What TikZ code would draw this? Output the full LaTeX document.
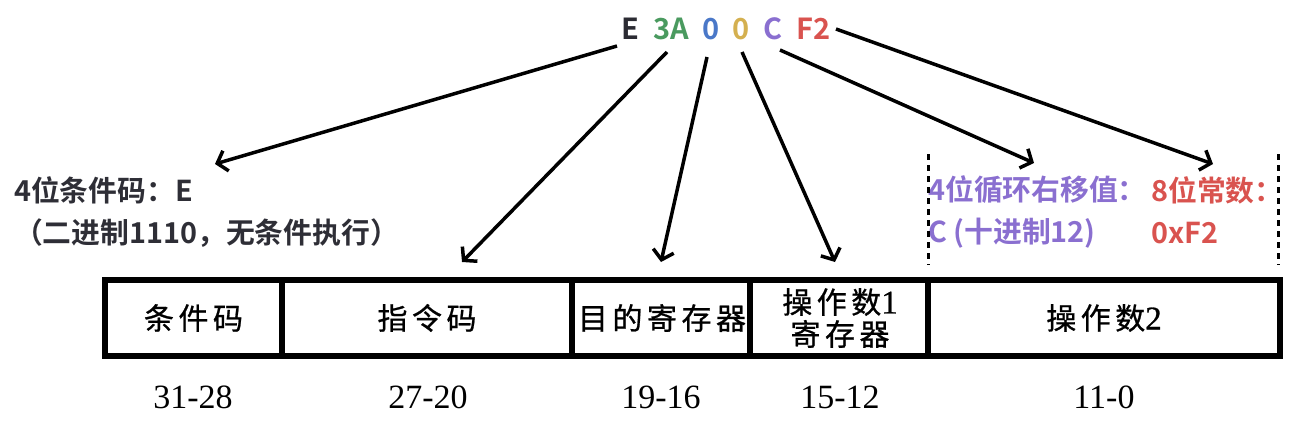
\documentclass[tikz,border=0pt]{standalone}
\usepackage{fontspec}
\usetikzlibrary{arrows.meta}
\newfontfamily\cjk{Noto Sans CJK SC}[BoldFont={Noto Sans CJK SC Bold}]
\newfontfamily\boxfont{Noto Sans CJK SC}[LetterSpace=15,FakeBold=0.8]
\newfontfamily\numfont{Liberation Serif}
\newfontfamily\cellnum{Liberation Serif}[FakeBold=0.8]
\definecolor{cE}{HTML}{2B2B33}
\definecolor{cG}{HTML}{4A9A5F}
\definecolor{cB}{HTML}{4A78C8}
\definecolor{cY}{HTML}{D4B050}
\definecolor{cP}{HTML}{8A6FD0}
\definecolor{cR}{HTML}{D9534F}
\definecolor{cT}{HTML}{2E2E36}
\begin{document}
\begin{tikzpicture}[x=1pt,y=-1pt,
  hexd/.style={inner sep=0pt,font=\cjk\bfseries\fontsize{29}{34}\selectfont},
  lbl/.style={inner sep=0pt,anchor=west,font=\cjk\bfseries\fontsize{28.8}{34}\selectfont},
  celltxt/.style={inner sep=0pt,align=center,font=\boxfont\fontsize{30}{36}\selectfont},
  bits/.style={inner sep=0pt,font=\numfont\fontsize{34}{40}\selectfont},
  arr/.style={line width=3.5pt,-{Straight Barb[length=9pt,width=21pt,line width=3.5pt]}},
  frame/.style={line width=6pt},
  guide/.style={line width=3pt,dash pattern=on 6pt off 5pt}]
\useasboundingbox (0,0) rectangle (1294,423);
% top hex digits
\node[hexd,text=cE] (hE) at (630,29) {E};
\node[hexd,text=cG] (h3A) at (671,29) {3A};
\node[hexd,text=cB] (h0a) at (711,29) {0};
\node[hexd,text=cY] (h0b) at (741,29) {0};
\node[hexd,text=cP] (hC) at (773,29) {C};
\node[hexd,text=cR] (hF2) at (814,29) {F2};
% arrow end points
\coordinate (sE) at (617,46);
\coordinate (s3A) at (667,52);
\coordinate (s0a) at (707,57);
\coordinate (s0b) at (742,52);
\coordinate (sC) at (780,50);
\coordinate (sF2) at (836,29);
\coordinate (tE) at (215,164);
\coordinate (t3A) at (462,262);
\coordinate (t0a) at (661,262);
\coordinate (t0b) at (835,262);
\coordinate (tC) at (1034,163);
\coordinate (tF2) at (1213,164);
\draw[arr] (sE) -- (tE);
\draw[arr] (s3A) -- (t3A);
\draw[arr] (s0a) -- (t0a);
\draw[arr] (s0b) -- (t0b);
\draw[arr] (sC) -- (tC);
\draw[arr] (sF2) -- (tF2);
% labels
\node[lbl,text=cT] (l1) at (14,190) {4位条件码：E};
\node[lbl,text=cT] (l2) at (14,233) {（二进制1110，无条件执行）};
\node[lbl,text=cP] (l3) at (928,190) {4位循环右移值：};
\node[lbl,text=cP] (l4) at (928,233) {C (十进制12)};
\node[lbl,text=cR] (l5) at (1151,190) {8位常数：};
\node[lbl,text=cR] (l6) at (1151,233) {0xF2};
% dashed guides
\coordinate (gA1) at (928,154);
\coordinate (gA2) at (928,265);
\coordinate (gB1) at (1278.5,154);
\coordinate (gB2) at (1278.5,265);
\draw[guide] (gA1) -- (gA2);
\draw[guide] (gB1) -- (gB2);
% instruction frame
\draw[frame] (105,280) rectangle (1279.5,356);
\draw[frame] (282,280) -- (282,356);
\draw[frame] (571.5,280) -- (571.5,356);
\draw[frame] (749.5,280) -- (749.5,356);
\draw[frame] (927.5,280) -- (927.5,356);
\node[celltxt] (c1) at (193.5,318) {条件码};
\node[celltxt] (c2) at (427,318) {指令码};
\node[celltxt] (c3) at (662,318) {目的寄存器};
\node[celltxt] (c4) at (840,318) {操作数{\cellnum\fontsize{33}{36}\selectfont 1}\\[-4pt]寄存器};
\node[celltxt] (c5) at (1104,318) {操作数{\cellnum\fontsize{33}{36}\selectfont 2}};
% bit ranges
\node[bits] (b1) at (193,397) {31-28};
\node[bits] (b2) at (428,397) {27-20};
\node[bits] (b3) at (661,397) {19-16};
\node[bits] (b4) at (840,397) {15-12};
\node[bits] (b5) at (1104,397) {11-0};
\end{tikzpicture}
\end{document}
